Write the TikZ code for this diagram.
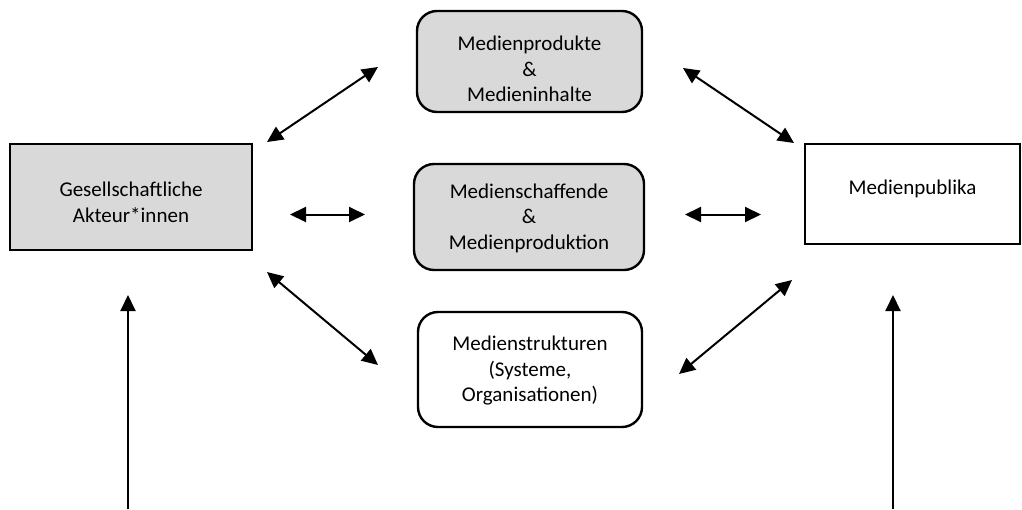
\documentclass[tikz,border=0pt]{standalone}
\usepackage{fontspec}
\setmainfont{Carlito}
\usetikzlibrary{arrows.meta}
\definecolor{boxgray}{HTML}{D9D9D9}

\begin{document}
\begin{tikzpicture}[x=1pt,y=-1pt,
  >={Triangle[length=16pt,width=15pt]},
  box/.style={draw,line width=2.4pt,inner sep=0pt},
  roundbox/.style={box,rounded corners=20pt},
  grey/.style={fill=boxgray},
  lbl/.style={align=center,inner sep=0pt,font=\fontsize{21}{25.5}\selectfont},
  link/.style={line width=2pt,<->},
  feed/.style={line width=2pt,->}]
\useasboundingbox (0,0) rectangle (1022,509);
% boxes
\node[box,grey,minimum width=242pt,minimum height=106pt,
  label={[lbl,yshift=-5.5pt]center:{Gesellschaftliche\\Akteur*innen}}] (akt) at (131,197) {};
\node[box,minimum width=215pt,minimum height=100pt,
  label={[lbl,yshift=5pt]center:{Medienpublika}}] (pub) at (912.5,194) {};
\node[roundbox,grey,minimum width=225pt,minimum height=101pt,
  label={[lbl,yshift=-7.5pt]center:{Medienprodukte\\\&\\Medieninhalte}}] (prod) at (529.5,61.5) {};
\node[roundbox,grey,minimum width=230pt,minimum height=106pt,
  label={[lbl,yshift=-1pt]center:{Medienschaffende\\\&\\Medienproduktion}}] (schaff) at (529,217) {};
\node[roundbox,minimum width=224pt,minimum height=115pt,
  label={[lbl,yshift=-1.5pt]center:{Medienstrukturen\\(Systeme,\\Organisationen)}}] (strukt) at (530,369.5) {};
% arrow ends
\coordinate (tl1) at (267,142); \coordinate (tl2) at (378,67);
\coordinate (tr1) at (683,68);  \coordinate (tr2) at (794,143);
\coordinate (ml1) at (290,214.5); \coordinate (ml2) at (365,214.5);
\coordinate (mr1) at (685,214.5); \coordinate (mr2) at (761,214.5);
\coordinate (bl1) at (267,272); \coordinate (bl2) at (378,365);
\coordinate (br1) at (679,374); \coordinate (br2) at (792,280);
\coordinate (vl1) at (128,509); \coordinate (vl2) at (128,295);
\coordinate (vr1) at (893,509); \coordinate (vr2) at (893,295);
% arrows
\draw[link] (tl1) -- (tl2);
\draw[link] (tr1) -- (tr2);
\draw[link] (ml1) -- (ml2);
\draw[link] (mr1) -- (mr2);
\draw[link] (bl1) -- (bl2);
\draw[link] (br1) -- (br2);
\draw[feed] (vl1) -- (vl2);
\draw[feed] (vr1) -- (vr2);
\end{tikzpicture}
\end{document}
